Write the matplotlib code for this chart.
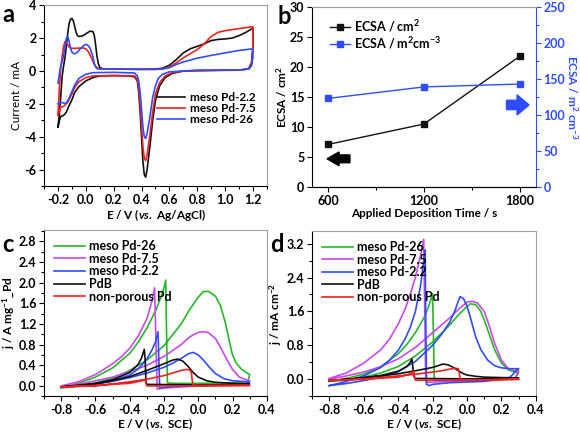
import matplotlib
matplotlib.use("Agg")
import matplotlib.pyplot as plt
import numpy as np
from matplotlib.ticker import MultipleLocator
from matplotlib.lines import Line2D

plt.rcParams['font.family'] = ['Lato', 'DejaVu Sans']
plt.rcParams['font.weight'] = 'bold'
plt.rcParams['axes.labelweight'] = 'bold'
plt.rcParams['mathtext.fontset'] = 'custom'
plt.rcParams['mathtext.rm'] = 'Lato:bold'
plt.rcParams['mathtext.bf'] = 'Lato:bold'
plt.rcParams['mathtext.it'] = 'Lato:bold:italic'

# ---- panel a: CVs in H2SO4, (E / V, I / mA), anodic then cathodic scan
a_pd22 = np.array([
    (-0.20, -3.40), (-0.19, -2.6), (-0.18, -1.5), (-0.17, -0.3), (-0.16, 0.3), (-0.15, 0.8),
    (-0.14, 1.5), (-0.13, 2.3), (-0.12, 2.9), (-0.11, 3.15), (-0.10, 3.2), (-0.09, 3.05),
    (-0.08, 2.7), (-0.07, 2.35), (-0.06, 2.15), (-0.05, 2.1), (-0.03, 2.12), (-0.01, 2.2),
    (0.01, 2.32), (0.03, 2.42), (0.05, 2.4), (0.06, 2.2), (0.07, 1.6), (0.08, 0.9), (0.09, 0.45),
    (0.10, 0.22), (0.12, 0.14), (0.2, 0.12), (0.4, 0.1), (0.5, 0.12), (0.55, 0.17), (0.6, 0.35),
    (0.65, 0.7), (0.7, 1.1), (0.75, 1.35), (0.8, 1.5), (0.85, 1.65), (0.9, 1.85), (0.95, 1.92),
    (1.0, 1.95), (1.05, 2.0), (1.1, 2.15), (1.15, 2.35), (1.2, 2.6),
    (1.2, 1.5), (1.19, 0.5), (1.17, 0.15), (1.1, 0.05), (1.0, 0.05), (0.8, 0.02), (0.7, 0.0),
    (0.62, -0.15), (0.57, -0.4), (0.53, -0.9), (0.5, -1.8), (0.48, -3.0), (0.46, -4.6),
    (0.44, -6.0), (0.43, -6.45), (0.42, -6.3), (0.41, -5.5), (0.40, -4.0), (0.39, -2.5),
    (0.38, -1.3), (0.37, -0.6), (0.35, -0.35), (0.3, -0.3), (0.2, -0.28), (0.1, -0.3),
    (0.05, -0.4), (0.0, -0.6), (-0.05, -0.95), (-0.08, -1.3), (-0.1, -1.75), (-0.12, -2.1),
    (-0.14, -2.5), (-0.16, -2.7), (-0.18, -2.75), (-0.19, -3.0), (-0.2, -3.4)])

a_pd75 = np.array([
    (-0.2, -2.7), (-0.19, -1.0), (-0.18, 0.2), (-0.17, 0.9), (-0.16, 1.5), (-0.15, 1.78),
    (-0.14, 1.75), (-0.13, 1.6), (-0.12, 1.45), (-0.1, 1.38), (-0.07, 1.38), (-0.04, 1.4),
    (-0.02, 1.4), (0.0, 1.35), (0.02, 1.15), (0.04, 0.8), (0.06, 0.4), (0.08, 0.2), (0.1, 0.13),
    (0.3, 0.11), (0.5, 0.1), (0.55, 0.13), (0.6, 0.25), (0.65, 0.5), (0.7, 0.8), (0.75, 1.05),
    (0.8, 1.3), (0.85, 1.65), (0.9, 2.1), (0.95, 2.35), (1.0, 2.45), (1.1, 2.58), (1.2, 2.7),
    (1.2, 1.2), (1.19, 0.4), (1.17, 0.12), (1.1, 0.05), (0.8, 0.03), (0.7, 0.0), (0.62, -0.1),
    (0.57, -0.3), (0.53, -0.7), (0.5, -1.4), (0.48, -2.5), (0.46, -3.9), (0.44, -5.1),
    (0.43, -5.45), (0.42, -5.3), (0.41, -4.6), (0.40, -3.3), (0.39, -2.0), (0.38, -1.0),
    (0.37, -0.5), (0.35, -0.3), (0.2, -0.27), (0.05, -0.3), (0.0, -0.4), (-0.05, -0.65),
    (-0.08, -1.0), (-0.1, -1.4), (-0.13, -1.9), (-0.16, -2.15), (-0.18, -2.2), (-0.2, -2.7)])

a_pd26 = np.array([
    (-0.2, -0.75), (-0.19, -0.2), (-0.18, 0.3), (-0.17, 0.6), (-0.16, 0.9), (-0.15, 1.5),
    (-0.14, 2.0), (-0.13, 2.1), (-0.12, 1.8), (-0.11, 1.4), (-0.1, 1.15), (-0.09, 1.07),
    (-0.08, 1.05), (-0.06, 1.15), (-0.04, 1.35), (-0.02, 1.52), (0.0, 1.62), (0.01, 1.6),
    (0.03, 1.4), (0.05, 0.9), (0.06, 0.5), (0.07, 0.25), (0.08, 0.15), (0.1, 0.12), (0.3, 0.11),
    (0.5, 0.1), (0.55, 0.12), (0.6, 0.2), (0.65, 0.4), (0.7, 0.55), (0.8, 0.78), (0.9, 0.95),
    (1.0, 1.1), (1.1, 1.25), (1.2, 1.35),
    (1.2, 0.8), (1.19, 0.3), (1.17, 0.12), (1.1, 0.06), (0.8, 0.05), (0.7, 0.0), (0.6, -0.05),
    (0.55, -0.2), (0.52, -0.45), (0.5, -0.9), (0.48, -1.6), (0.46, -2.8), (0.44, -3.8),
    (0.43, -4.1), (0.42, -4.0), (0.41, -3.4), (0.40, -2.3), (0.39, -1.3), (0.38, -0.6),
    (0.37, -0.3), (0.35, -0.12), (0.2, -0.08), (0.05, -0.1), (0.0, -0.2), (-0.05, -0.45),
    (-0.08, -0.85), (-0.1, -1.25), (-0.12, -1.65), (-0.14, -1.95), (-0.16, -1.95),
    (-0.18, -1.9), (-0.2, -2.0)])

# ---- panel b: ECSA vs deposition time
dep_time = [600, 1200, 1800]
ecsa_cm2 = [7.1, 10.5, 21.8]
ecsa_m2cm3 = [123, 139, 143]

# ---- panel c: ethanol oxidation, mass activity (E / V, j / A mg-1)
c_pd26 = np.array([
    (-0.8, -0.04), (-0.7, 0.0), (-0.6, 0.06), (-0.5, 0.15), (-0.4, 0.3), (-0.3, 0.5),
    (-0.2, 0.78), (-0.1, 1.2), (-0.05, 1.48), (0.0, 1.72), (0.03, 1.83), (0.06, 1.83),
    (0.1, 1.74), (0.13, 1.55), (0.16, 1.2), (0.18, 0.88), (0.2, 0.6), (0.22, 0.45), (0.25, 0.33),
    (0.28, 0.26), (0.3, 0.22),
    (0.29, 0.08), (0.2, 0.06), (0.0, 0.05), (-0.15, 0.05), (-0.18, 0.06), (-0.185, 1.0),
    (-0.19, 2.05), (-0.2, 1.9), (-0.22, 1.7), (-0.25, 1.45), (-0.3, 1.12), (-0.35, 0.85),
    (-0.4, 0.63), (-0.5, 0.35), (-0.6, 0.17), (-0.7, 0.05), (-0.8, -0.03)])

c_pd75 = np.array([
    (-0.8, -0.02), (-0.7, 0.03), (-0.6, 0.1), (-0.5, 0.17), (-0.4, 0.28), (-0.3, 0.4),
    (-0.2, 0.57), (-0.1, 0.8), (-0.05, 0.95), (0.0, 1.04), (0.03, 1.05), (0.06, 1.03),
    (0.1, 0.92), (0.13, 0.75), (0.16, 0.55), (0.2, 0.32), (0.24, 0.17), (0.28, 0.12), (0.3, 0.1),
    (0.28, 0.05), (0.2, 0.03), (0.0, 0.0), (-0.2, -0.04), (-0.24, -0.06), (-0.245, 0.6),
    (-0.255, 1.9), (-0.27, 1.65), (-0.3, 1.3), (-0.35, 0.97), (-0.4, 0.73), (-0.45, 0.56),
    (-0.5, 0.43), (-0.6, 0.22), (-0.7, 0.08), (-0.8, 0.0)])

c_pd22 = np.array([
    (-0.8, -0.02), (-0.7, 0.0), (-0.6, 0.04), (-0.5, 0.09), (-0.4, 0.16), (-0.3, 0.25),
    (-0.2, 0.36), (-0.15, 0.44), (-0.1, 0.53), (-0.06, 0.62), (-0.03, 0.65), (0.0, 0.6),
    (0.03, 0.5), (0.06, 0.38), (0.1, 0.24), (0.15, 0.14), (0.2, 0.1), (0.3, 0.08),
    (0.28, 0.04), (0.1, 0.02), (-0.1, 0.0), (-0.2, -0.03), (-0.225, -0.05), (-0.23, 0.5),
    (-0.235, 1.05), (-0.25, 0.85), (-0.27, 0.7), (-0.3, 0.52), (-0.35, 0.33), (-0.4, 0.21),
    (-0.5, 0.1), (-0.6, 0.04), (-0.8, -0.02)])

c_pdb = np.array([
    (-0.8, -0.02), (-0.7, 0.0), (-0.6, 0.04), (-0.5, 0.1), (-0.4, 0.18), (-0.3, 0.3),
    (-0.2, 0.43), (-0.15, 0.5), (-0.12, 0.52), (-0.09, 0.48), (-0.06, 0.38), (-0.03, 0.26),
    (0.0, 0.17), (0.05, 0.1), (0.1, 0.07), (0.2, 0.05), (0.3, 0.04),
    (0.28, 0.02), (0.0, 0.02), (-0.3, 0.03), (-0.305, 0.08), (-0.31, 0.5), (-0.315, 0.71),
    (-0.33, 0.55), (-0.35, 0.42), (-0.4, 0.26), (-0.5, 0.12), (-0.6, 0.05), (-0.8, -0.02)])

c_nonpor = np.array([
    (-0.8, -0.02), (-0.6, 0.01), (-0.5, 0.04), (-0.4, 0.08), (-0.3, 0.13), (-0.2, 0.2),
    (-0.15, 0.25), (-0.1, 0.3), (-0.07, 0.32), (-0.05, 0.31), (-0.04, 0.25), (-0.035, 0.1),
    (-0.03, 0.02), (0.0, 0.01), (0.3, 0.01),
    (0.0, 0.0), (-0.3, 0.0), (-0.305, 0.05), (-0.31, 0.12), (-0.33, 0.1), (-0.4, 0.05),
    (-0.5, 0.03), (-0.6, 0.0), (-0.8, -0.02)])

# ---- panel d: ethanol oxidation, specific activity (E / V, j / mA cm-2)
d_pd26 = np.array([
    (-0.8, -0.05), (-0.7, -0.02), (-0.6, 0.05), (-0.5, 0.15), (-0.4, 0.3), (-0.3, 0.55),
    (-0.2, 0.88), (-0.1, 1.28), (-0.05, 1.52), (0.0, 1.72), (0.02, 1.78), (0.05, 1.76),
    (0.08, 1.6), (0.1, 1.4), (0.13, 1.05), (0.16, 0.7), (0.2, 0.38), (0.24, 0.22), (0.28, 0.17),
    (0.3, 0.16),
    (0.28, 0.03), (0.1, 0.0), (-0.1, -0.02), (-0.19, -0.02), (-0.195, 1.0), (-0.2, 2.02),
    (-0.22, 1.75), (-0.25, 1.45), (-0.3, 1.1), (-0.35, 0.82), (-0.4, 0.6), (-0.5, 0.3),
    (-0.6, 0.12), (-0.7, 0.02), (-0.8, -0.05)])

d_pd75 = np.array([
    (-0.8, 0.0), (-0.7, 0.08), (-0.6, 0.17), (-0.5, 0.3), (-0.4, 0.48), (-0.3, 0.75),
    (-0.2, 1.1), (-0.1, 1.45), (-0.05, 1.65), (0.0, 1.82), (0.03, 1.84), (0.06, 1.8),
    (0.1, 1.6), (0.13, 1.25), (0.16, 0.85), (0.2, 0.45), (0.24, 0.25), (0.28, 0.2), (0.3, 0.2),
    (0.28, 0.03), (0.1, -0.02), (-0.1, -0.05), (-0.23, -0.07), (-0.24, -0.05), (-0.245, 1.5),
    (-0.252, 3.3), (-0.26, 3.1), (-0.28, 2.75), (-0.3, 2.4), (-0.33, 2.0), (-0.36, 1.65),
    (-0.4, 1.3), (-0.45, 0.95), (-0.5, 0.7), (-0.6, 0.38), (-0.7, 0.15), (-0.8, 0.02)])

d_pd22 = np.array([
    (-0.8, -0.15), (-0.7, -0.1), (-0.6, -0.03), (-0.5, 0.05), (-0.4, 0.18), (-0.3, 0.42),
    (-0.2, 0.8), (-0.15, 1.05), (-0.1, 1.35), (-0.07, 1.62), (-0.05, 1.85), (-0.04, 1.95),
    (-0.02, 1.9), (0.0, 1.72), (0.02, 1.45), (0.05, 1.0), (0.08, 0.7), (0.12, 0.45),
    (0.16, 0.32), (0.2, 0.27), (0.25, 0.25), (0.3, 0.25),
    (0.29, 0.22), (0.25, 0.05), (0.2, 0.0), (0.1, -0.05), (-0.1, -0.08), (-0.2, -0.12),
    (-0.22, -0.15), (-0.235, -0.12), (-0.24, 1.5), (-0.243, 3.05), (-0.25, 2.85), (-0.27, 2.2),
    (-0.3, 1.6), (-0.33, 1.22), (-0.36, 0.95), (-0.4, 0.68), (-0.45, 0.45), (-0.5, 0.28),
    (-0.6, 0.08), (-0.7, -0.05), (-0.8, -0.15)])

d_pdb = np.array([
    (-0.8, -0.03), (-0.7, 0.0), (-0.6, 0.04), (-0.5, 0.08), (-0.4, 0.13), (-0.3, 0.2),
    (-0.2, 0.28), (-0.16, 0.33), (-0.14, 0.36), (-0.11, 0.34), (-0.08, 0.28), (-0.05, 0.2),
    (-0.02, 0.13), (0.0, 0.1), (0.05, 0.07), (0.1, 0.05), (0.2, 0.04), (0.3, 0.03),
    (0.28, 0.01), (0.0, 0.01), (-0.3, 0.02), (-0.31, 0.08), (-0.315, 0.3), (-0.32, 0.48),
    (-0.33, 0.4), (-0.35, 0.3), (-0.4, 0.19), (-0.5, 0.09), (-0.6, 0.03), (-0.8, -0.03)])

d_nonpor = np.array([
    (-0.8, -0.03), (-0.7, -0.01), (-0.6, 0.01), (-0.5, 0.04), (-0.4, 0.08), (-0.3, 0.12),
    (-0.2, 0.17), (-0.15, 0.2), (-0.1, 0.24), (-0.07, 0.26), (-0.05, 0.25), (-0.045, 0.15),
    (-0.04, 0.0), (0.0, -0.02), (0.3, 0.0),
    (0.0, -0.02), (-0.3, -0.02), (-0.305, 0.05), (-0.31, 0.2), (-0.32, 0.15), (-0.35, 0.1),
    (-0.4, 0.05), (-0.6, 0.0), (-0.8, -0.03)])

BLACK = '#111111'
RED = '#f02020'
BLUE = '#2f4dff'
GREEN = '#25b825'
MAGENTA = '#c84ae8'
GRAY = '#a0a0a0'
FS = 9
LFS = 8.5


def style(ax, right_gray=True):
    ax.spines['top'].set_color(GRAY)
    if right_gray:
        ax.spines['right'].set_color(GRAY)
    ax.tick_params(which='both', direction='out', labelsize=FS, top=False, right=False, pad=2)
    ax.tick_params(which='major', length=3.5, width=0.8)
    ax.tick_params(which='minor', length=2, width=0.8)


fig = plt.figure(figsize=(5.8, 4.34), dpi=100)

# ---------- a
ax = fig.add_axes([0.076, 0.571, 0.384, 0.417])
ax.plot(a_pd22[:, 0], a_pd22[:, 1], color=BLACK, lw=1.2, label='meso Pd-2.2')
ax.plot(a_pd75[:, 0], a_pd75[:, 1], color=RED, lw=1.2, label='meso Pd-7.5')
ax.plot(a_pd26[:, 0], a_pd26[:, 1], color=BLUE, lw=1.2, label='meso Pd-26')
ax.set_xlim(-0.3, 1.3)
ax.set_ylim(-7, 4)
ax.set_xticks(np.arange(-0.2, 1.21, 0.2))
ax.xaxis.set_minor_locator(MultipleLocator(0.1))
ax.set_yticks(np.arange(-6, 4.1, 2))
ax.yaxis.set_minor_locator(MultipleLocator(1))
ax.set_xticklabels(['-0.2', '0.0', '0.2', '0.4', '0.6', '0.8', '1.0', '1.2'])
ax.set_yticklabels(['-6', '-4', '-2', '0', '2', '4'])
style(ax)
ax.set_xlabel(r'E / V ($\mathit{vs.}$ Ag/AgCl)', fontsize=LFS, labelpad=1)
ax.set_ylabel('Current / mA', fontsize=LFS, labelpad=2, fontweight='normal')
ax.legend(loc='lower right', bbox_to_anchor=(1.0, 0.28), frameon=False, fontsize=8.5,
          labelspacing=0.0, handlelength=2.3, handletextpad=0.5)

# ---------- b
axb = fig.add_axes([0.538, 0.569, 0.386, 0.415])
axb.plot(dep_time, ecsa_cm2, color=BLACK, lw=1, marker='s', ms=4.5)
axb.set_xlim(500, 1900)
axb.set_ylim(0, 30)
axb.set_xticks(dep_time)
axb.xaxis.set_minor_locator(MultipleLocator(300))
axb.set_yticks(range(0, 31, 5))
style(axb, right_gray=False)
axb.spines['right'].set_visible(False)
axb.set_xlabel('Applied Deposition Time / s', fontsize=LFS, labelpad=1)
axb.set_ylabel(r'ECSA / cm$^{2}$', fontsize=LFS, labelpad=1)
axb.arrow(737, 4.7, -143, 0, width=1.3, head_width=2.3, head_length=75,
          length_includes_head=True, color='black')

ax2 = axb.twinx()
ax2.plot(dep_time, ecsa_m2cm3, color=BLUE, lw=1, marker='s', ms=4.5)
ax2.set_ylim(0, 250)
ax2.set_yticks(range(0, 251, 50))
ax2.spines['right'].set_color(BLUE)
ax2.spines['top'].set_color(GRAY)
ax2.spines['left'].set_visible(False)
ax2.tick_params(axis='y', which='both', direction='out', colors=BLUE, labelsize=FS, pad=2)
ax2.yaxis.set_minor_locator(MultipleLocator(25))
ax2.tick_params(which='major', length=3.5, width=0.8)
ax2.tick_params(which='minor', length=2, width=0.8)
ax2.set_ylabel(r'ECSA / m$^{2}$ cm$^{-3}$', fontsize=LFS, color=BLUE, rotation=270, labelpad=10)
ax2.arrow(1716, 114, 141, 0, width=13, head_width=28, head_length=75,
          length_includes_head=True, color=BLUE)
hb = [Line2D([], [], color=BLACK, lw=1, marker='s', ms=4.5),
      Line2D([], [], color=BLUE, lw=1, marker='s', ms=4.5)]
ax2.legend(hb, [r'ECSA / cm$^{2}$', r'ECSA / m$^{2}$cm$^{-3}$'], loc='upper left',
           bbox_to_anchor=(0.03, 1.0), frameon=False, fontsize=FS, labelspacing=0.05,
           handlelength=1.6, handletextpad=0.3)


def eor_panel(ax, curves, ymax_ticks, ystep):
    for arr, col, lab in curves:
        ax.plot(arr[:, 0], arr[:, 1], color=col, lw=1.2, label=lab)
    ax.set_xlim(-0.9, 0.4)
    ax.set_xticks(np.arange(-0.8, 0.41, 0.2))
    ax.set_xticklabels(['-0.8', '-0.6', '-0.4', '-0.2', '0.0', '0.2', '0.4'])
    ax.xaxis.set_minor_locator(MultipleLocator(0.1))
    yt = np.arange(0, ymax_ticks + 1e-6, ystep)
    ax.set_yticks(yt)
    ax.set_yticklabels(['%.1f' % v for v in yt])
    ax.yaxis.set_minor_locator(MultipleLocator(ystep / 2))
    style(ax)
    ax.set_xlabel(r'E / V ($\mathit{vs.}$ SCE)', fontsize=LFS, labelpad=0)
    ax.legend(loc='upper left', frameon=False, fontsize=FS, labelspacing=0.05,
              handlelength=2.5, handletextpad=0.3, borderaxespad=0.4)


# ---------- c
axc = fig.add_axes([0.076, 0.087, 0.384, 0.383])
eor_panel(axc, [(c_pd26, GREEN, 'meso Pd-26'), (c_pd75, MAGENTA, 'meso Pd-7.5'),
                (c_pd22, BLUE, 'meso Pd-2.2'), (c_pdb, BLACK, 'PdB'),
                (c_nonpor, RED, 'non-porous Pd')], 2.8, 0.4)
axc.set_ylim(-0.2, 3.02)
axc.set_ylabel(r'j / A mg$^{-1}$_Pd', fontsize=LFS, labelpad=2)

# ---------- d
axd = fig.add_axes([0.538, 0.087, 0.386, 0.381])
eor_panel(axd, [(d_pd26, GREEN, 'meso Pd-26'), (d_pd75, MAGENTA, 'meso Pd-7.5'),
                (d_pd22, BLUE, 'meso Pd-2.2'), (d_pdb, BLACK, 'PdB'),
                (d_nonpor, RED, 'non-porous Pd')], 3.2, 0.8)
axd.set_ylim(-0.4, 3.5)
axd.set_ylabel(r'j / mA cm$^{-2}$', fontsize=LFS, labelpad=2)

# panel letters
for x, y, s in [(0.004, 0.949, 'a'), (0.478, 0.945, 'b'), (0.004, 0.419, 'c'), (0.466, 0.419, 'd')]:
    fig.text(x, y, s, fontsize=17, fontweight='bold', va='baseline')

fig.savefig('out.png', dpi=100)
